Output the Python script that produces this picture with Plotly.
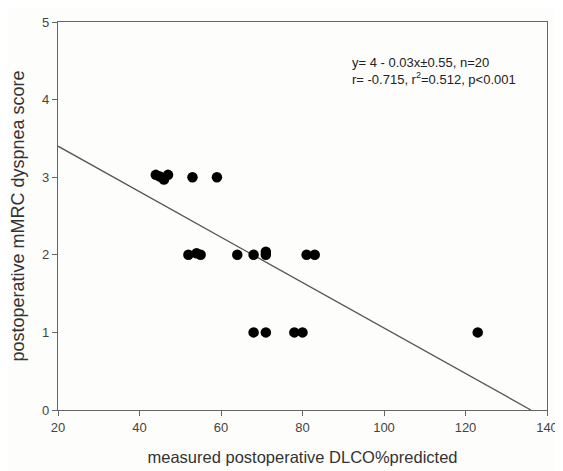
import plotly.graph_objects as go

dlco = [44, 45, 46, 47, 53, 59,
        52, 54, 55, 64, 68, 71, 71, 81, 83,
        68, 71, 78, 80, 123]
mmrc = [3.03, 3.01, 2.97, 3.03, 3.0, 3.0,
        2.0, 2.02, 2.0, 2.0, 2.0, 2.0, 2.04, 2.0, 2.0,
        1.0, 1.0, 1.0, 1.0, 1.0]
intercept = 3.986
slope = -0.0293
line_x = [20, -intercept / slope]
line_y = [intercept + slope * v for v in line_x]

x_ticks = [20, 40, 60, 80, 100, 120, 140]
y_ticks = [0, 1, 2, 3, 4, 5]

FONT = "Liberation Sans, Arial"

fig = go.Figure()
fig.add_trace(go.Scatter(x=line_x, y=line_y, mode="lines",
                         line=dict(color="#555555", width=1.3), showlegend=False))
fig.add_trace(go.Scatter(x=dlco, y=mmrc, mode="markers",
                         marker=dict(color="black", size=10.5), showlegend=False))

fig.add_annotation(x=0.597, y=0.92, xref="paper", yref="paper", xanchor="left", yanchor="top",
                   align="left", showarrow=False,
                   text="y= 4 - 0.03x±0.55, n=20<br>r= -0.715, r<sup>2</sup>=0.512, p<0.001",
                   font=dict(family=FONT, size=13, color="#222222"))

axis_common = dict(showgrid=False, zeroline=False, showline=True, linecolor="#666666",
                   linewidth=1.3, mirror=True, ticks="outside", ticklen=5, tickcolor="#666666",
                   automargin=False,
                   tickfont=dict(family=FONT, size=13, color="#444444"))

# page body has an 8px default margin, so the figure is sized to fit the 563x471 window
fig.update_layout(
    width=555, height=463,
    margin=dict(l=50, r=16, t=14, b=61),
    paper_bgcolor="#fdfdfb", plot_bgcolor="#fdfdfb",
    xaxis=dict(range=[20, 140], tickvals=x_ticks,
               title=dict(text="measured postoperative DLCO%predicted", standoff=17,
                          font=dict(family=FONT, size=16.5, color="#333333")),
               **axis_common),
    yaxis=dict(range=[0, 5], tickvals=y_ticks,
               title=dict(text="postoperative mMRC dyspnea score", standoff=12,
                          font=dict(family=FONT, size=18, color="#333333")),
               **axis_common),
)
fig.write_html("out.html")
